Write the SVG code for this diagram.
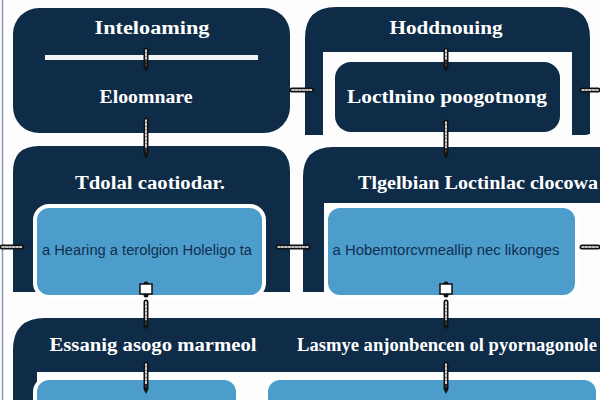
<svg xmlns="http://www.w3.org/2000/svg" width="600" height="400" viewBox="0 0 600 400">
<defs>
<style>
.navy{fill:#0e2c48}
.blue{fill:#4c9dcc;stroke:#ffffff;stroke-width:4}
.title{font-family:"Liberation Serif","DejaVu Serif",serif;font-weight:bold;font-size:18px;fill:#ffffff;text-anchor:middle}
.body{font-family:"Liberation Sans","DejaVu Sans",sans-serif;font-size:14px;fill:#10304e;text-anchor:middle}
.wire-o{fill:none;stroke:#111111;stroke-width:5;stroke-linecap:round}
.wire-i{fill:none;stroke:#ffffff;stroke-width:1.6;stroke-linecap:round;stroke-dasharray:2 1.5}
</style>
<marker id="ah" viewBox="0 0 10 10" refX="5" refY="5" markerWidth="4" markerHeight="4" orient="auto">
<path d="M0,1 L8,5 L0,9 Z" fill="#111111"/>
</marker>
</defs>
<rect width="600" height="400" fill="#fdfdfd"/>
<line x1="2.5" y1="0" x2="2.5" y2="400" stroke="#8c9cb2" stroke-width="1.5"/>

<g id="node-top-left">
<rect x="13" y="8" width="277" height="125" rx="26" class="navy"/>
<rect x="45" y="55" width="213" height="5" fill="#f2f4f6"/>
<text x="152" y="34" class="title" textLength="115" lengthAdjust="spacingAndGlyphs">Inteloaming</text>
<text x="146" y="103" class="title" textLength="93" lengthAdjust="spacingAndGlyphs">Eloomnare</text>
</g>

<g id="node-top-right">
<path d="M305,135 V38 Q305,7 336,7 H560 Q590,7 590,38 V132 Q590,135 585,135 Z" class="navy"/>
<path d="M323,135 V52 H572 V135 Z" fill="#fdfdfd"/>
<rect x="335" y="62" width="225" height="70" rx="16" class="navy"/>
<rect x="577" y="52" width="13" height="82" class="navy"/>
<text x="446" y="34" class="title" textLength="113" lengthAdjust="spacingAndGlyphs">Hoddnouing</text>
<text x="447" y="103" class="title" textLength="200" lengthAdjust="spacingAndGlyphs">Loctlnino poogotnong</text>
</g>

<g id="node-mid-left">
<path d="M13,300 V172 Q13,146 39,146 H264 Q290,146 290,172 V292 H13 Z" class="navy"/>
<rect x="35" y="206" width="229" height="91" rx="14" class="blue"/>
<text x="150" y="189" class="title" textLength="150" lengthAdjust="spacingAndGlyphs">Tdolal caotiodar.</text>
<text x="147" y="255" class="body" textLength="210" lengthAdjust="spacingAndGlyphs">a Hearing a terolgion Holeligo ta</text>
</g>

<g id="node-mid-right">
<path d="M303,292 V177 Q303,147 333,147 H600 V203 H324 V292 Z" class="navy"/>
<rect x="326" y="206" width="251" height="91" rx="14" class="blue"/>
<text x="478" y="189" class="title" textLength="240" lengthAdjust="spacingAndGlyphs">Tlgelbian Loctinlac clocowa</text>
<text x="446" y="255" class="body" textLength="227" lengthAdjust="spacingAndGlyphs">a Hobemtorcvmeallip nec likonges</text>
</g>

<g id="node-bottom">
<path d="M13,402 V350 Q13,318 45,318 H600 V372 H37 V402 Z" class="navy"/>
<rect x="35" y="378" width="203" height="40" rx="14" class="blue"/>
<rect x="266" y="378" width="332" height="40" rx="14" class="blue"/>
<text x="153" y="351" class="title" textLength="207" lengthAdjust="spacingAndGlyphs">Essanig asogo marmeol</text>
<text x="447" y="351" class="title" textLength="300" lengthAdjust="spacingAndGlyphs">Lasmye anjonbencen ol pyornagonole</text>
</g>

<g id="connectors">
<g class="wire-o">
<line x1="146" y1="50" x2="146" y2="66"/>
<line x1="146" y1="120" x2="146" y2="152"/>
<line x1="446" y1="50" x2="446" y2="66"/>
<line x1="446" y1="122" x2="446" y2="152"/>
<line x1="146" y1="284" x2="146" y2="295"/>
<line x1="146" y1="302" x2="146" y2="325"/>
<line x1="146" y1="364" x2="146" y2="388"/>
<line x1="446" y1="284" x2="446" y2="295"/>
<line x1="446" y1="302" x2="446" y2="325"/>
<line x1="446" y1="364" x2="446" y2="388"/>
<line x1="292" y1="90" x2="312" y2="90"/>
<line x1="582" y1="90" x2="598" y2="90"/>
<line x1="2" y1="247" x2="22" y2="247"/>
<line x1="278" y1="247" x2="308" y2="247"/>
<line x1="582" y1="247" x2="598" y2="247"/>
</g>
<g class="wire-i">
<line x1="146" y1="50" x2="146" y2="66"/>
<line x1="146" y1="120" x2="146" y2="152"/>
<line x1="446" y1="50" x2="446" y2="66"/>
<line x1="446" y1="122" x2="446" y2="152"/>
<line x1="146" y1="302" x2="146" y2="325"/>
<line x1="146" y1="364" x2="146" y2="388"/>
<line x1="446" y1="302" x2="446" y2="325"/>
<line x1="446" y1="364" x2="446" y2="388"/>
<line x1="292" y1="90" x2="312" y2="90"/>
<line x1="582" y1="90" x2="598" y2="90"/>
<line x1="2" y1="247" x2="22" y2="247"/>
<line x1="278" y1="247" x2="308" y2="247"/>
<line x1="582" y1="247" x2="598" y2="247"/>
</g>
<rect x="140" y="284" width="12" height="10" fill="#ffffff" stroke="#111111" stroke-width="1.5"/>
<rect x="440" y="284" width="12" height="10" fill="#ffffff" stroke="#111111" stroke-width="1.5"/>
<g fill="none" stroke="#111111" stroke-width="1.6" marker-end="url(#ah)">
<line x1="146" y1="60" x2="146" y2="70"/>
<line x1="146" y1="148" x2="146" y2="157"/>
<line x1="446" y1="60" x2="446" y2="70"/>
<line x1="446" y1="148" x2="446" y2="157"/>
<line x1="146" y1="384" x2="146" y2="392"/>
<line x1="446" y1="384" x2="446" y2="392"/>
<line x1="146" y1="320" x2="146" y2="328"/>
<line x1="446" y1="320" x2="446" y2="328"/>
</g>
</g>
</svg>
